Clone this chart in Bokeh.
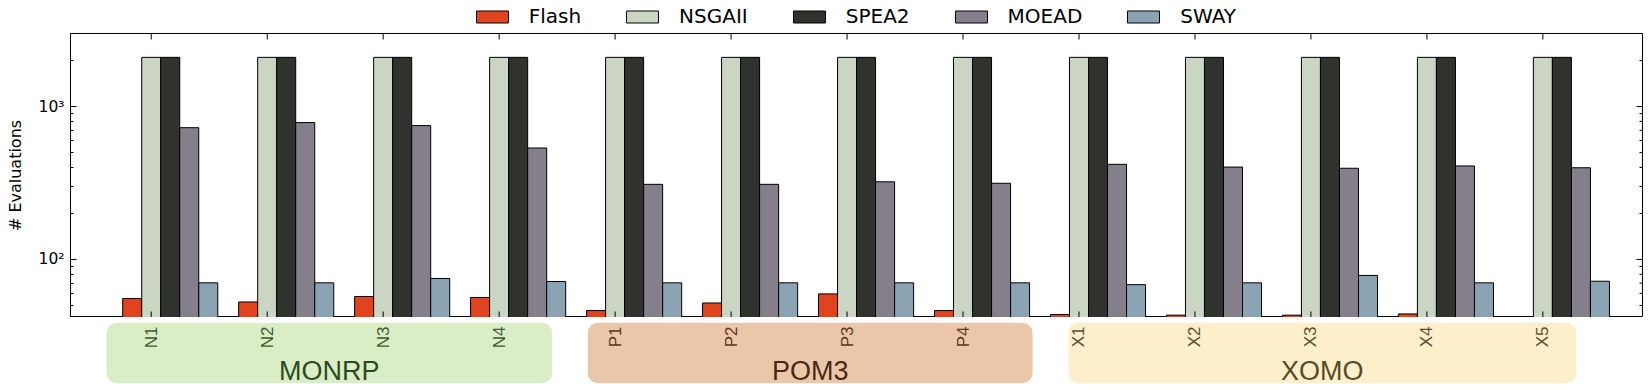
import math
from bokeh.plotting import figure
from bokeh.models import (Range1d, FixedTicker, Legend, LegendItem, ColumnDataSource)
from bokeh.layouts import column
from bokeh.core.properties import value
from bokeh.embed import file_html
from bokeh.resources import INLINE

# ---------------- data ----------------
problems = ["N1", "N2", "N3", "N4", "P1", "P2", "P3", "P4",
            "X1", "X2", "X3", "X4", "X5"]
series = ["Flash", "NSGAII", "SPEA2", "MOEAD", "SWAY"]
flash = [55.5, 52.7, 57.2, 56.4, 46.3, 51.9, 59.5, 46.3, 43.6, 43.2, 43.2, 44.0, 41.5]
nsgaii = [2100, 2100, 2100, 2100, 2100, 2100, 2100, 2100, 2100, 2100, 2100, 2100, 2100]
spea2 = [2100, 2100, 2100, 2100, 2100, 2100, 2100, 2100, 2100, 2100, 2100, 2100, 2100]
moead = [728, 786, 751, 536, 310, 310, 322, 315, 419, 402, 395, 409, 398]
sway = [70.3, 70.3, 75.1, 71.7, 70.3, 70.3, 70.3, 70.3, 68.4, 70.3, 78.6, 70.3, 72.0]
groups = ["MONRP", "POM3", "XOMO"]
group_first = ["N1", "P1", "X1"]
group_last = ["N4", "P4", "X5"]
y_major = [100, 1000]
y_major_labels = ["10\u00b2", "10\u00b3"]
y_minor = [50, 60, 70, 80, 90, 200, 300, 400, 500, 600, 700, 800, 900, 2000]

# ---------------- style ----------------
colors = ["#e0441f", "#cbd5c4", "#2f322d", "#857e8b", "#8ba2b2"]
group_fill = ["#d9edc7", "#ebc7aa", "#fdefca"]
group_text = ["#2e4a1d", "#4a2812", "#5a4a25"]
tick_text = ["#3f5c2c", "#5a3820", "#5c4f30"]
bar_w = 0.164
box_pad_left = [0.385, 0.236, 0.09]
box_pad_right = [0.457, 0.600, 0.287]

W = 1650
LEFT = 70
RIGHT = 8
H_LEG = 33
H_MAIN = 284
H_STRIP = 73
FRAME_W = W - LEFT - RIGHT

x_range = Range1d(-0.696, 12.859)
y_lo, y_hi = 41.7, 3008

# ---------------- legend strip ----------------
lg = figure(width=W, height=H_LEG, x_range=Range1d(0, 1), y_range=Range1d(0, 1),
            output_backend="svg", toolbar_location=None,
            x_axis_location=None, y_axis_location=None,
            min_border_left=LEFT, min_border_right=RIGHT, min_border_top=0,
            min_border_bottom=0)
lg.grid.visible = False
lg.outline_line_color = None
leg_r = []
for k in range(len(series)):
    # proxy renderers (placed outside the visible range) that carry the legend style
    leg_r.append(lg.vbar(x=[-10], top=[-10], bottom=[-11], width=1, fill_color=colors[k],
                         line_color="black", line_width=1))
legend = Legend(items=[LegendItem(label=s, renderers=[r]) for s, r in zip(series, leg_r)],
                orientation="horizontal", location=(401.7, 5),
                glyph_width=40, glyph_height=15, label_standoff=17, spacing=41,
                padding=0, margin=0, border_line_color=None,
                background_fill_alpha=0, label_text_font="DejaVu Sans",
                label_text_font_size="20px", label_text_color="black")
lg.add_layout(legend, "center")

# ---------------- main chart ----------------
p = figure(width=W, height=H_MAIN, x_range=x_range, y_range=Range1d(y_lo, y_hi),
           y_axis_type="log", output_backend="svg", toolbar_location=None,
           x_axis_location=None,
           min_border_left=LEFT, min_border_right=RIGHT, min_border_top=0,
           min_border_bottom=0)
p.grid.visible = False
p.outline_line_color = "black"
p.outline_line_width = 1
p.background_fill_color = "white"
p.border_fill_color = "white"

idx = list(range(len(problems)))
data_series = [flash, nsgaii, spea2, moead, sway]
for k, vals in enumerate(data_series):
    src = ColumnDataSource(dict(x=[i + (k - 1) * bar_w for i in idx], top=vals,
                                bottom=[1] * len(vals)))
    p.vbar(x="x", top="top", bottom="bottom", width=bar_w, source=src,
           fill_color=colors[k], line_color="black", line_width=1)

yticker = FixedTicker(ticks=y_major, minor_ticks=y_minor)
ya = p.left[0]
ya.ticker = yticker
ya.major_label_overrides = {t: l for t, l in zip(y_major, y_major_labels)}
ya.major_tick_in = 6
ya.major_tick_out = 0
ya.minor_tick_in = 3
ya.minor_tick_out = 0
ya.major_label_standoff = 6
ya.major_label_text_font = "DejaVu Sans"
ya.major_label_text_font_size = "15.5px"
ya.major_label_text_color = "black"
ya.axis_label = "# Evaluations"
ya.axis_label_text_font = "DejaVu Sans"
ya.axis_label_text_font_size = "16px"
ya.axis_label_text_font_style = "normal"
ya.axis_label_text_color = "black"
ya.axis_label_standoff = 11
ya.axis_line_color = "black"

# inward tick marks on the right, top and bottom edges (matplotlib box style)
px_x = (x_range.end - x_range.start) / FRAME_W
dec_px = math.log10(y_hi / y_lo) / H_MAIN
maj = 6
mnr = 3
rt_y = y_major + y_minor
rt_len = [maj] * len(y_major) + [mnr] * len(y_minor)
p.segment(x0=[x_range.end] * len(rt_y), x1=[x_range.end - L * px_x for L in rt_len],
          y0=rt_y, y1=rt_y, line_color="black", line_width=1)
p.segment(x0=idx, x1=idx, y0=[y_hi] * len(idx),
          y1=[y_hi * 10 ** (-maj * dec_px)] * len(idx), line_color="black", line_width=1)
p.segment(x0=idx, x1=idx, y0=[y_lo] * len(idx),
          y1=[y_lo * 10 ** (maj * dec_px)] * len(idx), line_color="black", line_width=1)

# ---------------- group strip ----------------
s = figure(width=W, height=H_STRIP, x_range=x_range, y_range=Range1d(0, H_STRIP),
           output_backend="svg", toolbar_location=None,
           x_axis_location=None, y_axis_location=None,
           min_border_left=LEFT, min_border_right=RIGHT, min_border_top=0,
           min_border_bottom=0)
s.grid.visible = False
s.outline_line_color = None
s.border_fill_color = "white"
s.background_fill_color = "white"

pos = {n: i for i, n in enumerate(problems)}
for g in range(len(groups)):
    a = pos[group_first[g]]
    b = pos[group_last[g]]
    s.quad(left=[a - box_pad_left[g]], right=[b + box_pad_right[g]],
           bottom=[7.3], top=[67.7], fill_color=group_fill[g], line_color=None,
           border_radius=10)
    s.text(x=[(a - box_pad_left[g] + b + box_pad_right[g]) / 2], y=[20],
           text=[groups[g]], text_align="center", text_baseline="alphabetic",
           text_font=value("Liberation Sans"), text_font_size="27px",
           text_color=group_text[g])
    members = problems[a:b + 1]
    s.text(x=list(range(a, b + 1)), y=[64] * len(members), text=members,
           angle=math.pi / 2, text_align="right", text_baseline="middle",
           text_font=value("Liberation Sans"), text_font_size="17px",
           text_color=tick_text[g])

layout = column(lg, p, s, spacing=0)
open("out.html", "w").write(file_html(layout, INLINE))
